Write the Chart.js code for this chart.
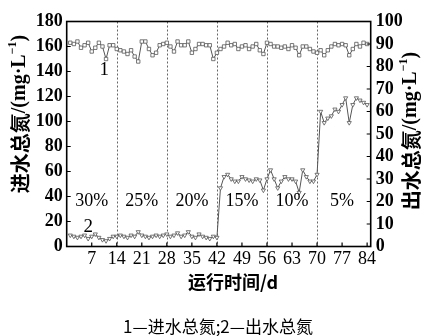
<!DOCTYPE html>
<html><head><meta charset="utf-8">
<script src="https://cdn.jsdelivr.net/npm/chart.js@4/dist/chart.umd.min.js"></script>
<style>html,body{margin:0;padding:0;background:#fff;}</style>
</head><body>
<canvas id="c" width="425" height="336"></canvas>
<script>
const days = [1,2,3,4,5,6,7,8,9,10,11,12,13,14,15,16,17,18,19,20,21,22,23,24,25,26,27,28,29,30,31,32,33,34,35,36,37,38,39,40,41,42,43,44,45,46,47,48,49,50,51,52,53,54,55,56,57,58,59,60,61,62,63,64,65,66,67,68,69,70,71,72,73,74,75,76,77,78,79,80,81,82,83,84];
const inflowTN = [163,162,164,159,161,163,156,159,163,160,150,161,161,158,
  157,156,154,157,152,148,164,164,158,153,155,161,162,163,
  160,156,164,161,161,164,155,158,162,162,161,161,150,155,
  158,160,163,161,162,158,160,161,158,160,162,157,154,163,
  162,160,160,159,160,158,161,159,153,160,160,158,156,155,
  157,153,157,160,162,161,162,161,153,158,162,160,163,162];
const outflowTN = [5.0,4.5,4.0,4.5,5.0,3.5,4.5,5.5,4.0,3.0,2.5,3.5,4.5,4.5,
  5.0,4.5,4.0,5.0,4.5,6.5,5.0,4.5,4.0,4.5,5.0,4.5,5.0,5.5,
  4.5,5.0,6.0,4.5,5.0,6.5,4.5,4.0,5.5,4.5,4.0,3.5,4.5,4.0,
  26,31,32,30,29,29,31,30,29.5,29,30,29.5,25,30,
  34,30,26,29,31,30,30,29,24,34,31,29,29,32,
  60,55,57,58,61,60,63,66,55,63,66,65,64,63];
const xTicks = [7,14,21,28,35,42,49,56,63,70,77,84];
const phaseBounds = [14,28,42,56,70];
const phaseCenters = [7,21,35,49,63,77];
const phaseLabels = ['30%','25%','20%','15%','10%','5%'];
const leftTitle = ['进水总氮','/(mg·L','−1',')'];
const rightTitle = ['出水总氮','/(mg·L','−1',')'];
const xTitle = '运行时间/d';
const legendText = '1—进水总氮;2—出水总氮';

const SERIF = '"Liberation Serif","Noto Sans CJK SC"';
const CJK = '"Noto Sans CJK SC"';

function drawTitle(ctx, parts, cx, cy) {
  const segs = [
    {t: parts[0], f: 'bold 20px ' + CJK, dy: 0},
    {t: parts[1], f: 'bold 20px ' + SERIF, dy: 0},
    {t: parts[2], f: 'bold 12px ' + SERIF, dy: -7},
    {t: parts[3], f: 'bold 20px ' + SERIF, dy: 0}
  ];
  ctx.save();
  ctx.translate(cx, cy);
  ctx.rotate(-Math.PI / 2);
  let total = 0;
  segs.forEach(s => { ctx.font = s.f; s.w = ctx.measureText(s.t).width; total += s.w; });
  let x = -total / 2;
  ctx.fillStyle = '#000';
  ctx.textBaseline = 'middle';
  ctx.textAlign = 'left';
  segs.forEach(s => { ctx.font = s.f; ctx.fillText(s.t, x, s.dy); x += s.w; });
  ctx.restore();
}

const decor = {
  id: 'decor',
  beforeDatasetsDraw(chart) {
    const {ctx, chartArea: a, scales: {x}} = chart;
    ctx.save();
    ctx.strokeStyle = '#666';
    ctx.lineWidth = 1;
    ctx.setLineDash([2, 2]);
    phaseBounds.forEach(v => {
      const px = Math.round(x.getPixelForValue(v)) + 0.5;
      ctx.beginPath(); ctx.moveTo(px, a.top); ctx.lineTo(px, a.bottom); ctx.stroke();
    });
    ctx.restore();
  },
  afterDraw(chart) {
    const {ctx, chartArea: a, scales: {x, y, y2}} = chart;
    ctx.save();
    ctx.strokeStyle = '#000';
    ctx.lineWidth = 1.6;
    ctx.strokeRect(a.left, a.top, a.right - a.left, a.bottom - a.top);
    ctx.lineWidth = 1.2;
    ctx.beginPath();
    x.ticks.forEach(t => { const p = x.getPixelForValue(t.value); ctx.moveTo(p, a.bottom); ctx.lineTo(p, a.bottom - 4); });
    y.ticks.forEach(t => { const p = y.getPixelForValue(t.value); ctx.moveTo(a.left, p); ctx.lineTo(a.left + 4, p); });
    y2.ticks.forEach(t => { const p = y2.getPixelForValue(t.value); ctx.moveTo(a.right, p); ctx.lineTo(a.right - 4, p); });
    ctx.stroke();
    ctx.fillStyle = '#000';
    ctx.textAlign = 'center';
    ctx.textBaseline = 'middle';
    ctx.font = '18px ' + SERIF;
    phaseLabels.forEach((s, i) => ctx.fillText(s, x.getPixelForValue(phaseCenters[i]), y.getPixelForValue(36.4)));
    ctx.font = '19px ' + SERIF;
    ctx.fillText('1', x.getPixelForValue(10.5), y.getPixelForValue(141));
    ctx.fillText('2', x.getPixelForValue(6), y.getPixelForValue(15.5));
    drawTitle(ctx, leftTitle, 20, 114);
    drawTitle(ctx, rightTitle, 411, 131);
    ctx.font = 'bold 18px ' + CJK;
    ctx.textAlign = 'center';
    ctx.fillText(xTitle, 233, 282);
    ctx.font = '17px ' + CJK;
    ctx.fillText(legendText, 218, 327);
    ctx.restore();
  }
};

const pts1 = days.map((d, i) => ({x: d, y: inflowTN[i]}));
const pts2 = days.map((d, i) => ({x: d, y: outflowTN[i]}));

new Chart(document.getElementById('c'), {
  type: 'line',
  data: {
    datasets: [
      {data: pts1, yAxisID: 'y', borderColor: '#555', borderWidth: 1, pointStyle: 'rect', pointRadius: 2.4,
       pointBorderColor: '#555', pointBackgroundColor: '#fff', pointBorderWidth: 0.8, tension: 0},
      {data: pts2, yAxisID: 'y2', borderColor: '#555', borderWidth: 1, pointStyle: 'triangle', pointRotation: 180, pointRadius: 2.4,
       pointBorderColor: '#555', pointBackgroundColor: '#fff', pointBorderWidth: 0.8, tension: 0}
    ]
  },
  options: {
    responsive: false,
    devicePixelRatio: 1,
    animation: false,
    layout: {padding: {top: 21.5, left: 0, right: 0, bottom: 0}},
    plugins: {legend: {display: false}, tooltip: {enabled: false}},
    scales: {
      x: {
        type: 'linear', min: 0, max: 85,
        afterBuildTicks: s => { s.ticks = xTicks.map(v => ({value: v})); },
        afterFit: s => { s.height = 89.5; },
        grid: {display: false, drawTicks: false},
        border: {display: false},
        ticks: {color: '#000', font: {family: SERIF, size: 18}, padding: 2, maxRotation: 0, autoSkip: false}
      },
      y: {
        position: 'left', min: 0, max: 180,
        afterFit: s => { s.width = 66.7; },
        grid: {display: false, drawTicks: false},
        border: {display: false},
        ticks: {stepSize: 20, autoSkip: false, color: '#000', font: {family: SERIF, size: 18, weight: 'bold'}, padding: 4}
      },
      y2: {
        position: 'right', min: 0, max: 100,
        afterFit: s => { s.width = 54.3; },
        grid: {display: false, drawTicks: false},
        border: {display: false},
        ticks: {stepSize: 10, autoSkip: false, color: '#000', font: {family: SERIF, size: 18, weight: 'bold'}, padding: 5}
      }
    }
  },
  plugins: [decor]
});
</script>
</body></html>
